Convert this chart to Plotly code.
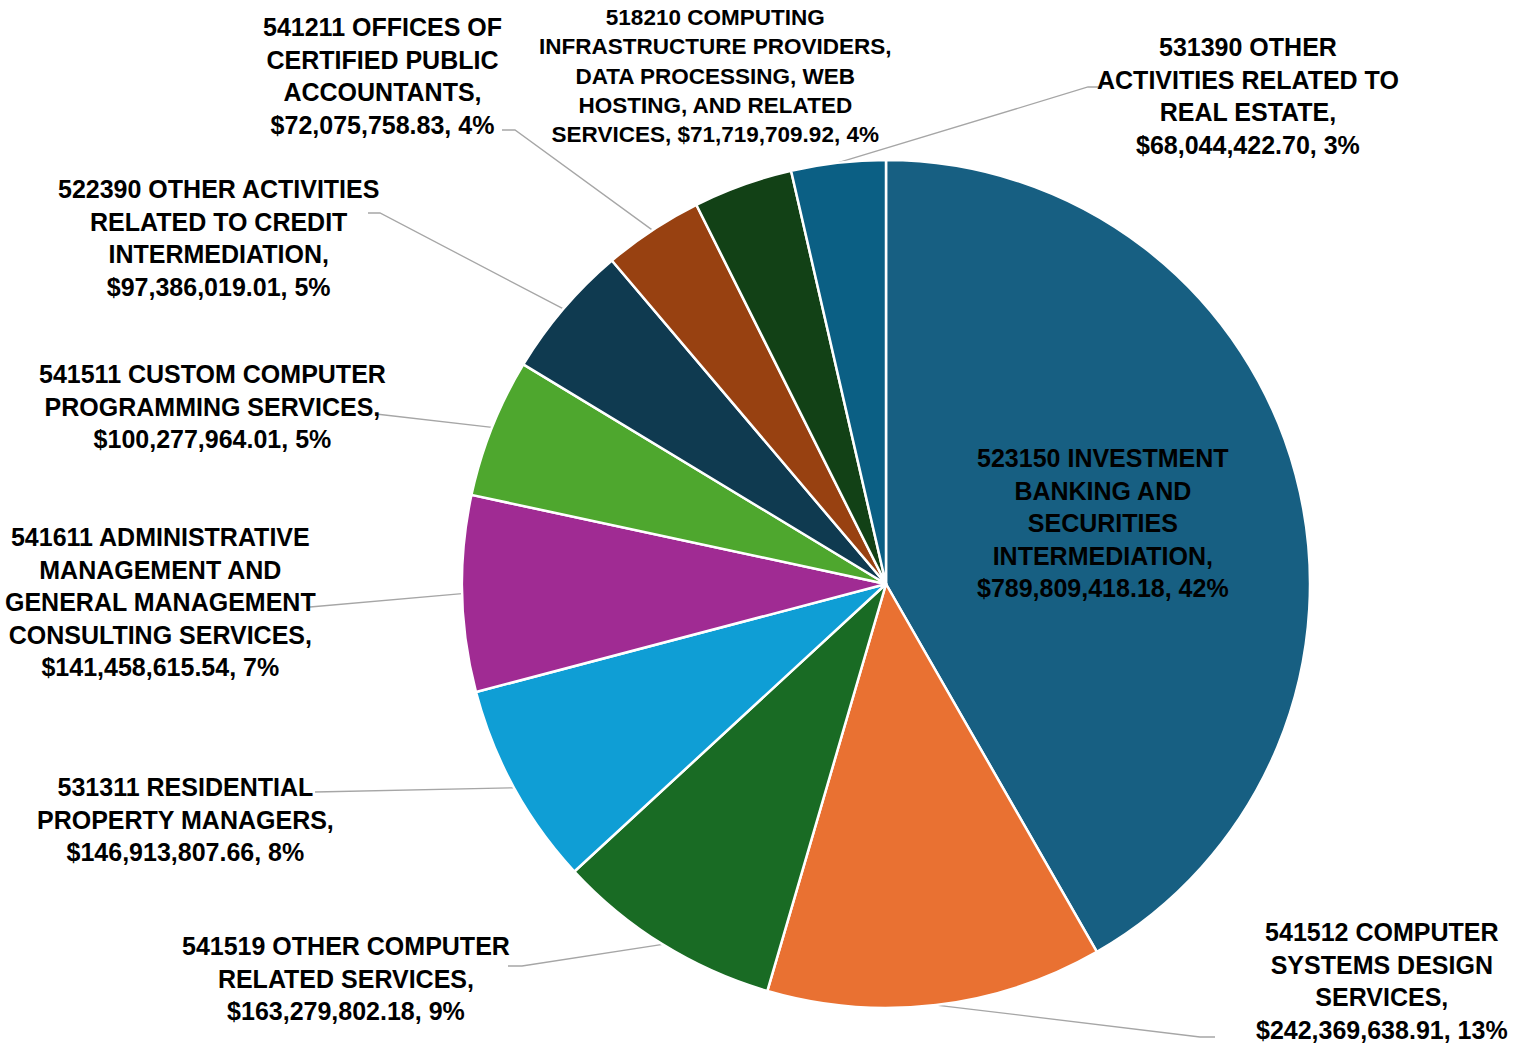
import math
import textwrap
import plotly.graph_objects as go

# ---------------- data ----------------
naics_codes = ["523150", "541512", "541519", "531311", "541611",
               "541511", "522390", "541211", "518210", "531390"]
industries = [
    "INVESTMENT BANKING AND SECURITIES INTERMEDIATION",
    "COMPUTER SYSTEMS DESIGN SERVICES",
    "OTHER COMPUTER RELATED SERVICES",
    "RESIDENTIAL PROPERTY MANAGERS",
    "ADMINISTRATIVE MANAGEMENT AND GENERAL MANAGEMENT CONSULTING SERVICES",
    "CUSTOM COMPUTER PROGRAMMING SERVICES",
    "OTHER ACTIVITIES RELATED TO CREDIT INTERMEDIATION",
    "OFFICES OF CERTIFIED PUBLIC ACCOUNTANTS",
    "COMPUTING INFRASTRUCTURE PROVIDERS, DATA PROCESSING, WEB HOSTING, AND RELATED SERVICES",
    "OTHER ACTIVITIES RELATED TO REAL ESTATE",
]
amounts = [789809418.18, 242369638.91, 163279802.18, 146913807.66, 141458615.54,
           100277964.01, 97386019.01, 72075758.83, 71719709.92, 68044422.70]

# ---------------- styles / layout ----------------
slice_colors = ["#175F82", "#E97132", "#196B24", "#0F9ED5", "#A02B93",
                "#4EA72E", "#0F3A50", "#984111", "#124116", "#0B5F84"]
wrap_widths = [17, 15, 21, 19, 21, 22, 23, 17, 28, 21]
label_centers = [(1103, 523), (1382, 981), (346, 978), (185, 819), (160, 602),
                 (212, 406), (218, 238), (382, 76), (715, 76), (1248, 96)]
label_sizes = [25, 25, 25, 25, 25, 25, 25, 25, 22.5, 25]
leader_paths = [
    None,
    [(1200, 1037), (1215, 1037)],
    [(522, 966), (508, 966)],
    [(315, 792)],
    [(310, 607)],
    [(376, 414)],
    [(380, 213), (368, 213)],
    [(515, 130), (502, 130)],
    None,
    [(1088, 87), (1100, 87)],
]

W, H = 1517, 1043
CX, CY, R = 886, 584, 424
FONT = "Liberation Sans, Arial, sans-serif"

# percentages (largest remainder so they sum to 100, like the source)
total = sum(amounts)
raw = [a / total * 100 for a in amounts]
floors = [math.floor(r) for r in raw]
left = 100 - sum(floors)
order = sorted(range(len(raw)), key=lambda i: raw[i] - floors[i], reverse=True)
pcts = floors[:]
for i in order[:left]:
    pcts[i] += 1

fig = go.Figure()

dom_x = [(CX - R) / W, (CX + R) / W]
dom_y = [1 - (CY + R) / H, 1 - (CY - R) / H]

fig.add_trace(go.Pie(
    values=amounts,
    labels=[f"{c} {n}" for c, n in zip(naics_codes, industries)],
    sort=False,
    direction="clockwise",
    rotation=0,
    marker=dict(colors=slice_colors, line=dict(color="white", width=2.5)),
    textinfo="none",
    hoverinfo="label+value+percent",
    domain=dict(x=dom_x, y=dom_y),
    showlegend=False,
))

# leader lines from the slice mid-angle on the rim to the label
cum = 0.0
for i, a in enumerate(amounts):
    frac = a / total
    mid = cum + frac / 2
    cum += frac
    path = leader_paths[i]
    if not path:
        continue
    th = 2 * math.pi * mid
    ax = CX + R * math.sin(th)
    ay = CY - R * math.cos(th)
    xs = [ax] + [p[0] for p in path]
    ys = [ay] + [p[1] for p in path]
    fig.add_trace(go.Scatter(x=xs, y=ys, mode="lines",
                             line=dict(color="#A6A6A6", width=1.3),
                             hoverinfo="skip", showlegend=False))

annotations = []
for i, a in enumerate(amounts):
    value_part = f"${a:,.2f},\u00a0{pcts[i]}%"
    full = f"{naics_codes[i]} {industries[i]}, {value_part}"
    lines = textwrap.wrap(full, width=wrap_widths[i], break_long_words=False,
                          break_on_hyphens=False)
    text = "<br>".join(l.replace("\u00a0", " ") for l in lines)
    x, y = label_centers[i]
    annotations.append(dict(
        x=x, y=y, xref="x", yref="y", text=text, showarrow=False,
        xanchor="center", yanchor="middle", align="center",
        font=dict(family=FONT, size=label_sizes[i], color="#000000", weight="bold"),
    ))

fig.update_layout(
    width=W, height=H,
    margin=dict(l=0, r=0, t=0, b=0),
    paper_bgcolor="white", plot_bgcolor="white",
    xaxis=dict(range=[0, W], visible=False, domain=[0, 1], fixedrange=True),
    yaxis=dict(range=[H, 0], visible=False, domain=[0, 1], fixedrange=True),
    annotations=annotations,
    showlegend=False,
)

fig.write_html("out.html",
               config={"displayModeBar": False},
               post_script="document.body.style.margin='0';document.body.style.overflow='hidden';")
